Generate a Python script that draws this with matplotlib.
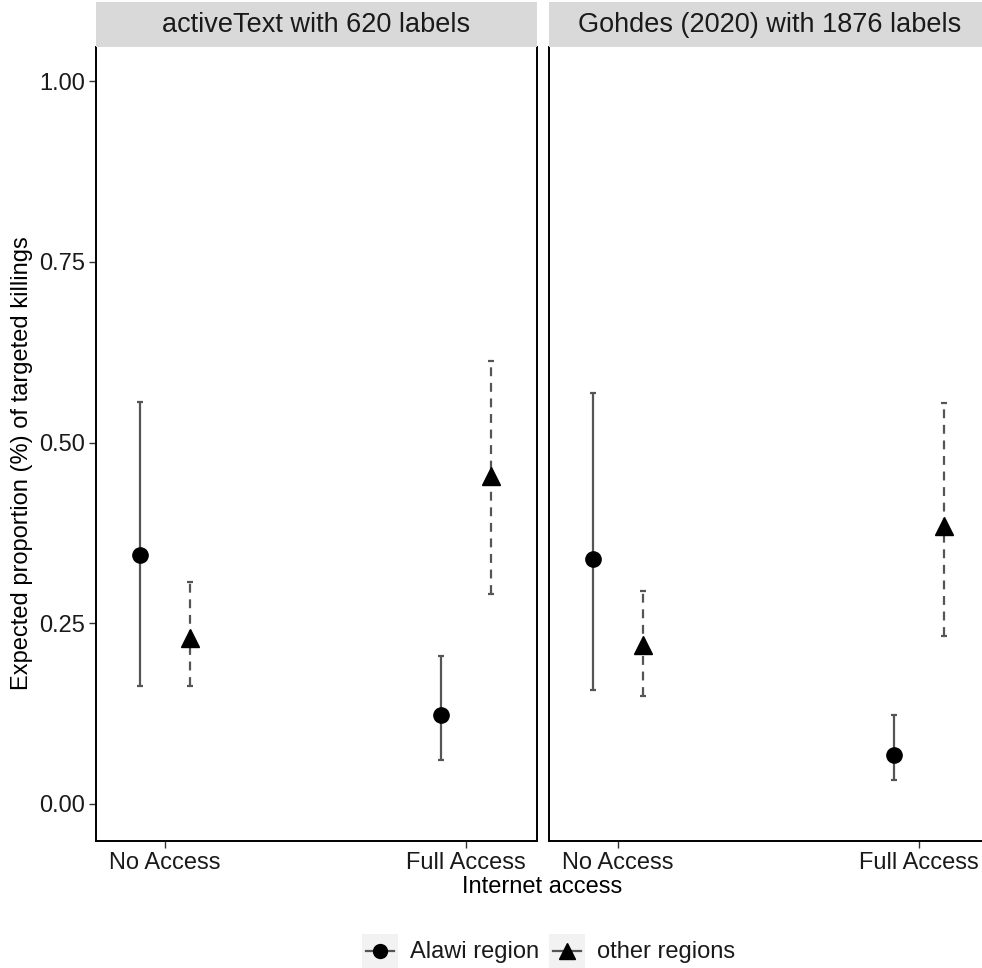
import matplotlib
matplotlib.use("Agg")
import matplotlib.pyplot as plt
from matplotlib.lines import Line2D
import numpy as np

plt.rcParams['font.family'] = ['Liberation Sans', 'DejaVu Sans']

panels = ["activeText with 620 labels", "Gohdes (2020) with 1876 labels"]
access = ["No Access", "Full Access"]
groups = ["Alawi region", "other regions"]

# estimates [panel][group][access]
est = {
    "activeText with 620 labels": {"Alawi region": [0.344, 0.123], "other regions": [0.229, 0.453]},
    "Gohdes (2020) with 1876 labels": {"Alawi region": [0.339, 0.068], "other regions": [0.220, 0.384]},
}
lower = {
    "activeText with 620 labels": {"Alawi region": [0.163, 0.061], "other regions": [0.163, 0.290]},
    "Gohdes (2020) with 1876 labels": {"Alawi region": [0.157, 0.033], "other regions": [0.150, 0.232]},
}
upper = {
    "activeText with 620 labels": {"Alawi region": [0.556, 0.205], "other regions": [0.307, 0.613]},
    "Gohdes (2020) with 1876 labels": {"Alawi region": [0.569, 0.123], "other regions": [0.294, 0.554]},
}

markers = {"Alawi region": "o", "other regions": "^"}
msizes = {"Alawi region": 11, "other regions": 13}
lstyles = {"Alawi region": "-", "other regions": (0, (4, 3))}
dodge = {"Alawi region": -0.083, "other regions": 0.083}

W, H = 982, 968
fig = plt.figure(figsize=(W / 100, H / 100), dpi=100)

ybot, ytop = 841, 47
pw = 441
lefts = [96, 549]
TXT = '#1a1a1a'
for pi, (panel, lx) in enumerate(zip(panels, lefts)):
    ax = fig.add_axes([lx / W, 1 - ybot / H, pw / W, (ybot - ytop) / H])
    x = np.arange(1, len(access) + 1)
    for g in groups:
        xs = x + dodge[g]
        e = np.array(est[panel][g])
        lo = np.array(lower[panel][g])
        hi = np.array(upper[panel][g])
        eb = ax.errorbar(xs, e, yerr=[e - lo, hi - e], fmt='none', ecolor='#555555',
                         elinewidth=1.6, capsize=2, capthick=1.6, zorder=2)
        eb[2][0].set_linestyle(lstyles[g])
        ax.plot(xs, e, linestyle='none', marker=markers[g], color='black',
                markersize=msizes[g], zorder=3)
    ax.set_xlim(1 - 69 / 301, 2 + 71 / 301)
    ax.set_ylim(-(841 - 804) / 723, 1 + (81 - 47) / 723)
    ax.set_xticks(x)
    ax.set_xticklabels(access, fontsize=17, color=TXT)
    ax.set_yticks([0, 0.25, 0.5, 0.75, 1.0])
    if pi == 0:
        ax.set_yticklabels(["0.00", "0.25", "0.50", "0.75", "1.00"], fontsize=17, color=TXT)
    else:
        ax.tick_params(axis='y', left=False, labelleft=False)
    ax.tick_params(length=5, width=1, color='#333333', pad=3)
    for s in ['left', 'right', 'bottom']:
        ax.spines[s].set_color('black')
        ax.spines[s].set_linewidth(1.4)
    ax.spines['top'].set_visible(False)
    # strip
    sax = fig.add_axes([lx / W, 1 - ytop / H, pw / W, 45 / H])
    sax.set_facecolor('#D9D9D9')
    sax.set_xticks([])
    sax.set_yticks([])
    for s in sax.spines.values():
        s.set_visible(False)
    sax.text(0.5, 0.5, panel, ha='center', va='center', fontsize=19.5, color=TXT,
             transform=sax.transAxes)

fig.text(22 / W, 1 - 463 / H, "Expected proportion (%) of targeted killings",
         rotation=90, ha='center', va='center', fontsize=17)
fig.text(542 / W, 1 - 887 / H, "Internet access", ha='center', va='center', fontsize=17)

# legend drawn as keys + labels
key_x = [362, 549]
text_x = [410, 597]
for g, kx, tx in zip(groups, key_x, text_x):
    kax = fig.add_axes([kx / W, 1 - 968 / H, 36 / W, 34 / H])
    kax.set_facecolor('#F2F2F2')
    kax.set_xlim(0, 1)
    kax.set_ylim(0, 1)
    kax.set_xticks([])
    kax.set_yticks([])
    for s in kax.spines.values():
        s.set_visible(False)
    kax.add_line(Line2D([0.1, 0.9], [0.5, 0.5], color='#555555', linewidth=1.6))
    kax.plot([0.5], [0.5], marker=markers[g], color='black', markersize=msizes[g] - 1)
    fig.text(tx / W, 1 - 952 / H, g, ha='left', va='center', fontsize=17, color=TXT)

fig.savefig("out.png", dpi=100, facecolor='white')
